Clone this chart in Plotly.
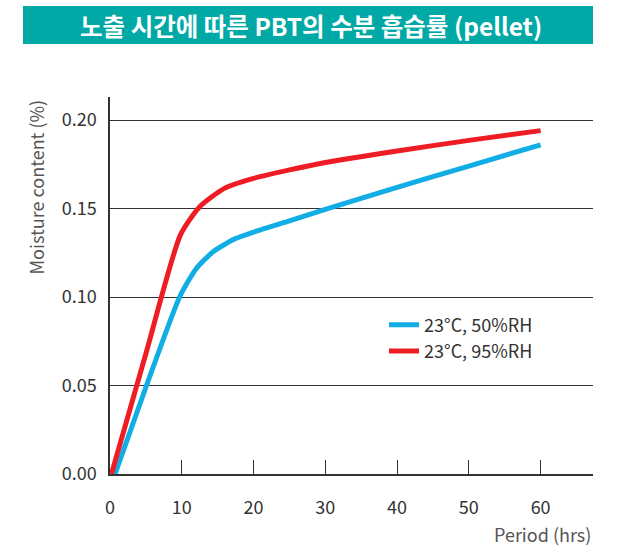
import plotly.graph_objects as go

title_text = "노출 시간에 따른 PBT의 수분 흡습률 (pellet)"
series_names = ["23°C, 50%RH", "23°C, 95%RH"]

hours_50 = [0.7, 5, 9.7, 12, 14.5, 17.5, 21, 25, 30, 40, 50, 60]
moist_50 = [0.0, 0.049, 0.100, 0.1160, 0.1260, 0.1330, 0.1380, 0.143, 0.1495, 0.162, 0.174, 0.186]

hours_95 = [0.2, 5, 9.8, 12.5, 16, 20, 25, 30, 40, 50, 60]
moist_95 = [0.0, 0.068, 0.135, 0.151, 0.1615, 0.167, 0.1718, 0.176, 0.1825, 0.1885, 0.194]

x_ticks = [0, 10, 20, 30, 40, 50, 60]
y_ticks = [0.00, 0.05, 0.10, 0.15, 0.20]

FONT = "Noto Sans CJK KR"

fig = go.Figure()
fig.add_trace(go.Scatter(x=hours_50, y=moist_50, mode="lines", name=series_names[0],
                         line=dict(color="#11ADE5", width=5, shape="spline", smoothing=0.6)))
fig.add_trace(go.Scatter(x=hours_95, y=moist_95, mode="lines", name=series_names[1],
                         line=dict(color="#EE1D24", width=5, shape="spline", smoothing=0.6)))

fig.update_layout(
    width=621, height=546,
    margin=dict(l=110, r=28, t=97, b=72),
    paper_bgcolor="white", plot_bgcolor="white",
    font=dict(family=FONT, color="#333333", size=18),
    showlegend=True,
    legend=dict(x=(384 - 110) / 483, y=(474 - 338) / 377, xanchor="left", yanchor="middle",
                font=dict(size=18, color="#333333"), bgcolor="rgba(0,0,0,0)",
                itemwidth=30, tracegroupgap=0),
    xaxis=dict(range=[0, 67.3], tickvals=x_ticks, ticks="inside", ticklen=14,
               tickcolor="#333333", showline=True, linecolor="#333333", linewidth=1.5,
               showgrid=False, zeroline=False, ticklabelstandoff=17,
               tickfont=dict(size=18, color="#333333")),
    yaxis=dict(range=[0, 0.213], tickvals=y_ticks, tickformat=".2f",
               showline=True, linecolor="#333333", linewidth=1.5,
               showgrid=True, gridcolor="#333333", gridwidth=1, zeroline=False,
               ticks="", ticklabelstandoff=8,
               tickfont=dict(size=18, color="#333333")),
    shapes=[dict(type="rect", xref="paper", yref="paper",
                 x0=(23 - 110) / 483, x1=1.0, y0=(474 - 44) / 377, y1=(474 - 6) / 377,
                 fillcolor="#00A9A6", line=dict(width=0), layer="above")],
    annotations=[
        dict(text="<b>" + title_text + "</b>", xref="paper", yref="paper",
             x=(311 - 110) / 483, y=(474 - 25) / 377, xanchor="center", yanchor="middle",
             showarrow=False, font=dict(size=24.5, color="white", family=FONT)),
        dict(text="Moisture content (%)", xref="paper", yref="paper",
             x=(35 - 110) / 483, y=(474 - 98) / 377, xanchor="center", yanchor="top",
             textangle=-90, showarrow=False, font=dict(size=18, color="#555555")),
        dict(text="Period (hrs)", xref="paper", yref="paper",
             x=1.0, y=(474 - 534) / 377, xanchor="right", yanchor="middle",
             showarrow=False, font=dict(size=18, color="#555555")),
    ],
)

fig.write_html("out.html", post_script="document.body.style.margin='0';",
               config={"displayModeBar": False})
